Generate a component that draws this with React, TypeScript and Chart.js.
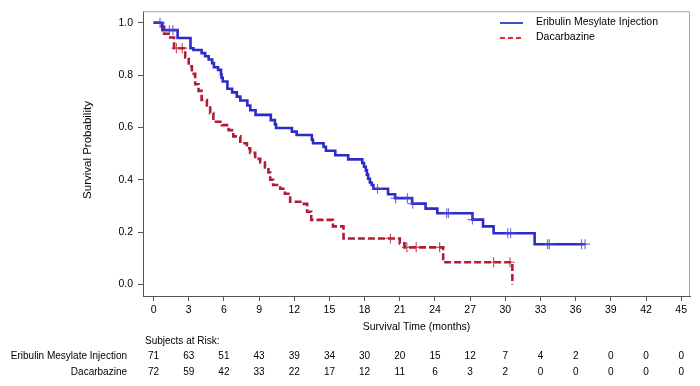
import React, { useEffect, useRef } from "react";
import { Chart, registerables } from "chart.js";
Chart.register(...registerables);

// ---- Data ----
const eribTimes = [0, 0.75, 2.05, 3.15, 3.4, 4.1, 4.4, 4.7, 5.0, 5.15, 5.5, 5.75, 5.8, 5.9, 6.3, 6.7, 7.1, 7.4, 8.0, 8.25, 8.7, 10.0, 10.35, 10.45, 11.8, 12.2, 13.5, 13.6, 14.5, 14.7, 15.5, 16.6, 17.8, 17.95, 18.1, 18.2, 18.3, 18.45, 18.6, 18.75, 20.0, 20.6, 22.05, 23.2, 24.2, 27.2, 28.1, 29.0, 32.5, 36.8];
const eribSurv = [1.0, 0.972, 0.942, 0.903, 0.896, 0.884, 0.872, 0.86, 0.846, 0.83, 0.82, 0.803, 0.79, 0.776, 0.748, 0.734, 0.718, 0.703, 0.684, 0.666, 0.648, 0.628, 0.612, 0.598, 0.584, 0.571, 0.553, 0.54, 0.526, 0.511, 0.494, 0.478, 0.464, 0.45, 0.436, 0.42, 0.404, 0.39, 0.38, 0.366, 0.345, 0.33, 0.309, 0.29, 0.272, 0.248, 0.222, 0.196, 0.154, 0.154];
const eribCensorTimes = [0.55, 1.35, 1.65, 19.1, 20.65, 21.65, 22.1, 25.0, 25.15, 27.2, 30.2, 30.45, 33.6, 33.75, 36.5, 36.8];

const dacaTimes = [0, 0.7, 0.9, 1.3, 1.75, 2.7, 3.0, 3.27, 3.55, 3.84, 4.1, 4.55, 4.83, 5.1, 5.83, 6.4, 6.8, 7.4, 7.96, 8.24, 8.67, 9.1, 9.5, 9.8, 9.95, 10.2, 10.8, 11.2, 11.65, 12.65, 13.1, 13.45, 15.3, 16.2, 21.0, 21.4, 24.7, 30.6];
const dacaSurv = [1.0, 0.986, 0.958, 0.944, 0.903, 0.868, 0.834, 0.805, 0.765, 0.74, 0.705, 0.684, 0.655, 0.622, 0.609, 0.59, 0.566, 0.54, 0.52, 0.503, 0.48, 0.466, 0.447, 0.428, 0.4, 0.38, 0.366, 0.347, 0.316, 0.308, 0.278, 0.247, 0.222, 0.176, 0.157, 0.142, 0.085, 0.0];
const dacaCensorTimes = [1.95, 2.45, 20.2, 21.6, 22.4, 24.4, 29.0, 30.4];

const xTicks = [0, 3, 6, 9, 12, 15, 18, 21, 24, 27, 30, 33, 36, 39, 42, 45];
const yTicks = [0, 0.2, 0.4, 0.6, 0.8, 1.0];
const seriesNames = ["Eribulin Mesylate Injection", "Dacarbazine"];
const eribRisk = [71, 63, 51, 43, 39, 34, 30, 20, 15, 12, 7, 4, 2, 0, 0, 0];
const dacaRisk = [72, 59, 42, 33, 22, 17, 12, 11, 6, 3, 2, 0, 0, 0, 0, 0];

const FONT = "'Liberation Sans', Arial, Helvetica, sans-serif";
const BLUE = "#2b2bcc";
const RED = "#b01c34";

function levelAt(times: number[], surv: number[], t: number) {
  let s = surv[0];
  for (let i = 0; i < times.length; i++) if (times[i] <= t) s = surv[i];
  return s;
}

const overlay = {
  id: "overlay",
  afterDraw(chart: any) {
    const { ctx, chartArea, scales } = chart;
    const x = scales.x;
    ctx.save();
    // light frame top/right
    ctx.strokeStyle = "#a8a8a8";
    ctx.lineWidth = 1;
    ctx.beginPath();
    ctx.moveTo(chartArea.left, chartArea.top + 0.5);
    ctx.lineTo(chartArea.right - 0.5, chartArea.top + 0.5);
    ctx.lineTo(chartArea.right - 0.5, chartArea.bottom);
    ctx.stroke();

    ctx.fillStyle = "#000";
    // y title
    ctx.save();
    ctx.translate(88, 150);
    ctx.rotate(-Math.PI / 2);
    ctx.font = `11.5px ${FONT}`;
    ctx.textAlign = "center";
    ctx.textBaseline = "middle";
    ctx.fillText("Survival Probability", 0, 0);
    ctx.restore();

    // x title
    ctx.font = `10.5px ${FONT}`;
    ctx.textAlign = "center";
    ctx.textBaseline = "middle";
    ctx.fillText("Survival Time (months)", (chartArea.left + chartArea.right) / 2, 327);

    // legend
    ctx.lineWidth = 2;
    ctx.strokeStyle = "#3355cc";
    ctx.beginPath();
    ctx.moveTo(500, 23);
    ctx.lineTo(523, 23);
    ctx.stroke();
    ctx.strokeStyle = "#e8263a";
    ctx.setLineDash([5, 3]);
    ctx.beginPath();
    ctx.moveTo(500, 38);
    ctx.lineTo(523, 38);
    ctx.stroke();
    ctx.setLineDash([]);
    ctx.textAlign = "left";
    ctx.font = `10.5px ${FONT}`;
    ctx.fillText(seriesNames[0], 536, 22);
    ctx.fillText(seriesNames[1], 536, 37.5);

    // risk table
    ctx.font = `10px ${FONT}`;
    ctx.textAlign = "left";
    ctx.fillText("Subjects at Risk:", 145, 341);
    ctx.textAlign = "right";
    ctx.fillText(seriesNames[0], 127, 356.5);
    ctx.fillText(seriesNames[1], 127, 372.5);
    ctx.textAlign = "center";
    xTicks.forEach((t, i) => {
      const px = x.getPixelForValue(t);
      ctx.fillText(String(eribRisk[i]), px, 356.5);
      ctx.fillText(String(dacaRisk[i]), px, 372.5);
    });
    ctx.restore();
  },
};

export default function App() {
  const ref = useRef<HTMLCanvasElement | null>(null);
  useEffect(() => {
    if (!ref.current) return;
    const chart = new Chart(ref.current, {
      type: "line",
      data: {
        datasets: [
          {
            label: "Eribulin censored",
            data: eribCensorTimes.map((t) => ({ x: t, y: levelAt(eribTimes, eribSurv, t) })),
            showLine: false,
            pointStyle: "cross",
            pointRadius: 5,
            borderColor: "rgba(70,70,215,0.75)",
            borderWidth: 1.2,
          },
          {
            label: "Dacarbazine censored",
            data: dacaCensorTimes.map((t) => ({ x: t, y: levelAt(dacaTimes, dacaSurv, t) })),
            showLine: false,
            pointStyle: "cross",
            pointRadius: 5,
            borderColor: "rgba(185,35,55,0.8)",
            borderWidth: 1.2,
          },
          {
            label: seriesNames[0],
            data: eribTimes.map((t, i) => ({ x: t, y: eribSurv[i] })),
            borderColor: BLUE,
            borderWidth: 2.6,
            stepped: true,
            pointRadius: 0,
            fill: false,
          },
          {
            label: seriesNames[1],
            data: dacaTimes.map((t, i) => ({ x: t, y: dacaSurv[i] })),
            borderColor: RED,
            borderWidth: 2.6,
            borderDash: [7, 3],
            stepped: true,
            pointRadius: 0,
            fill: false,
          },
        ],
      },
      options: {
        responsive: false,
        animation: false,
        layout: { padding: { left: 0, right: 10, top: 6, bottom: 0 } },
        plugins: { legend: { display: false }, tooltip: { enabled: false } },
        scales: {
          x: {
            type: "linear",
            min: -0.9,
            max: 45.75,
            afterBuildTicks: (s: any) => {
              s.ticks = xTicks.map((v) => ({ value: v }));
            },
            afterFit: (s: any) => {
              s.height = 90;
            },
            grid: { display: true, drawOnChartArea: false, drawTicks: true, tickLength: 5, color: "#555" },
            border: { display: true, color: "#555", width: 1 },
            ticks: {
              color: "#000",
              font: { family: FONT, size: 10.5 },
              padding: 3,
              maxRotation: 0,
              autoSkip: false,
              callback: (v: any) => String(v),
            },
          },
          y: {
            type: "linear",
            min: -0.044,
            max: 1.044,
            afterBuildTicks: (s: any) => {
              s.ticks = yTicks.map((v) => ({ value: v }));
            },
            afterFit: (s: any) => {
              s.width = 143;
            },
            grid: { display: true, drawOnChartArea: false, drawTicks: true, tickLength: 5, color: "#555" },
            border: { display: true, color: "#555", width: 1 },
            ticks: {
              color: "#000",
              font: { family: FONT, size: 10.5 },
              padding: 5,
              callback: (v: any) => Number(v).toFixed(1),
            },
          },
        },
      },
      plugins: [overlay],
    });
    return () => chart.destroy();
  }, []);
  return (
    <div style={{ position: "fixed", left: 0, top: 0, width: 700, height: 386, background: "#fff" }}>
      <canvas ref={ref} width={700} height={386} style={{ display: "block" }} />
    </div>
  );
}
